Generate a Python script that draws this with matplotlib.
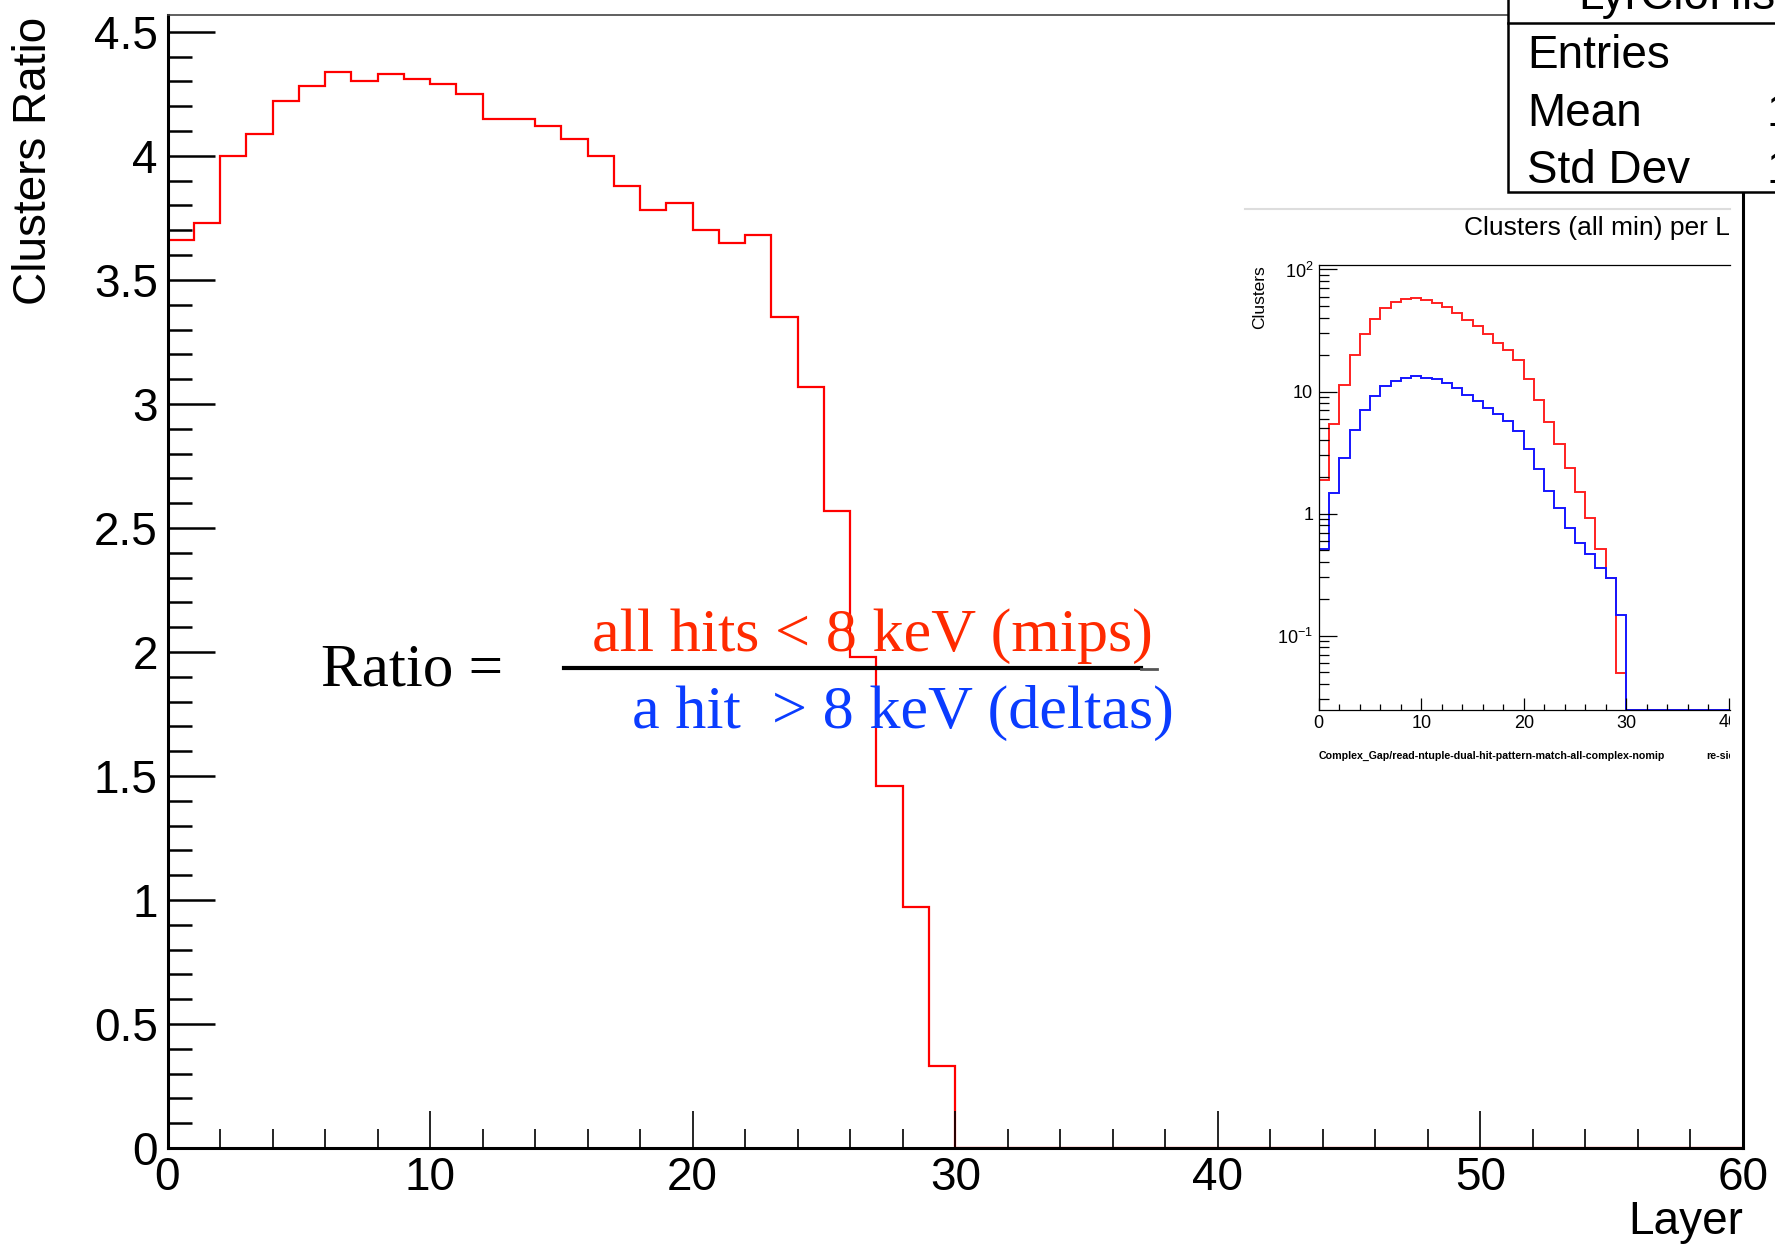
import numpy as np
import matplotlib.pyplot as plt
from matplotlib.patches import Rectangle
from matplotlib.lines import Line2D
from matplotlib.transforms import Bbox, TransformedBbox
from matplotlib.ticker import (MultipleLocator, FixedLocator, FixedFormatter,
                               LogLocator, NullFormatter, FuncFormatter)

plt.rcParams['font.family'] = ['Liberation Sans', 'DejaVu Sans']
plt.rcParams['mathtext.fontset'] = 'custom'
plt.rcParams['mathtext.rm'] = 'Liberation Sans'
plt.rcParams['mathtext.it'] = 'Liberation Sans:italic'

# ---- data ----
layers = np.arange(61)  # bin edges 0..60

# mips / deltas ratio per layer
ratio = [3.66, 3.73, 4.00, 4.09, 4.22, 4.28, 4.34, 4.30, 4.33, 4.31,
         4.29, 4.25, 4.15, 4.15, 4.12, 4.07, 4.00, 3.88, 3.78, 3.81,
         3.70, 3.65, 3.68, 3.35, 3.07, 2.57, 1.98, 1.46, 0.97, 0.33,
         0, 0, 0, 0, 0, 0, 0, 0, 0, 0,
         0, 0, 0, 0, 0, 0, 0, 0, 0, 0,
         0, 0, 0, 0, 0, 0, 0, 0, 0, 0]

# inset: clusters per layer (log scale)
mips = [1.88, 5.47, 11.4, 20.0, 29.6, 39.5, 48.5, 53.8, 56.9, 58.5,
        56.5, 53.5, 49.2, 44.1, 38.9, 34.2, 29.6, 25.2, 21.7, 18.0,
        12.6, 8.57, 5.67, 3.75, 2.35, 1.49, 0.927, 0.516, 0.294, 0.049,
        0, 0, 0, 0, 0, 0, 0, 0, 0, 0,
        0, 0, 0, 0, 0, 0, 0, 0, 0, 0,
        0, 0, 0, 0, 0, 0, 0, 0, 0, 0]
deltas = [0.509, 1.47, 2.88, 4.87, 7.06, 9.18, 11.0, 12.3, 13.0, 13.4,
          13.0, 12.7, 11.8, 10.6, 9.35, 8.39, 7.31, 6.50, 5.70, 4.74,
          3.38, 2.33, 1.53, 1.12, 0.759, 0.576, 0.469, 0.356, 0.294, 0.148,
          0, 0, 0, 0, 0, 0, 0, 0, 0, 0,
          0, 0, 0, 0, 0, 0, 0, 0, 0, 0,
          0, 0, 0, 0, 0, 0, 0, 0, 0, 0]

stat_names = ['Entries', 'Mean', 'Std Dev']

W, H = 1775, 1249


def fx(x):
    return x / W


def fy(y):
    return 1 - y / H


fig = plt.figure(figsize=(W / 100, H / 100), dpi=100)

# ---- main ratio histogram ----
ax = fig.add_axes([fx(167.5), fy(1148), fx(1743) - fx(167.5), fy(15) - fy(1148)])
ax.stairs(ratio, layers, color='red', lw=1.6, baseline=None)
ax.set_xlim(0, 60)
ax.set_ylim(0, 4.568)
ax.xaxis.set_major_locator(MultipleLocator(10))
ax.xaxis.set_minor_locator(MultipleLocator(2))
ax.yaxis.set_major_locator(MultipleLocator(0.5))
ax.yaxis.set_minor_locator(MultipleLocator(0.1))
ax.yaxis.set_major_formatter(FuncFormatter(lambda v, p: '%g' % v))
ax.tick_params(axis='both', which='both', direction='in', top=False, right=False)
ax.tick_params(axis='x', which='major', length=27, width=1.2, labelsize=33, pad=6)
ax.tick_params(axis='x', which='minor', length=14, width=1.2)
ax.tick_params(axis='y', which='major', length=34, width=1.8, labelsize=33, pad=7)
ax.tick_params(axis='y', which='minor', length=17, width=1.8)
for s in ['left', 'bottom', 'right']:
    ax.spines[s].set_linewidth(2.2)
ax.spines['top'].set_linewidth(1.2)
ax.spines['top'].set_color('#444444')

fig.text(fx(34), fy(17), 'Clusters Ratio', rotation=90, ha='center', va='top', fontsize=33)
fig.text(fx(1743), fy(1222), 'Layer', ha='right', va='center', fontsize=33)

# ---- ratio formula ----
fig.text(fx(321), fy(685), 'Ratio =', fontsize=44, family='Liberation Serif', va='baseline')
fig.text(fx(592), fy(651), 'all hits < 8 keV (mips)', fontsize=44.8,
         family='Liberation Serif', color='#ff2a00', va='baseline')
fig.text(fx(632), fy(728), 'a hit  > 8 keV (deltas)', fontsize=44.8,
         family='Liberation Serif', color='#0a3cff', va='baseline')
fig.add_artist(Line2D([fx(564), fx(1141)], [fy(668), fy(668)], color='black', lw=3,
                      transform=fig.transFigure))
fig.add_artist(Line2D([fx(1141), fx(1157)], [fy(669), fy(669)], color='#555555', lw=2,
                      transform=fig.transFigure))

# ---- stats box (cut by the canvas edge) ----
fig.add_artist(Rectangle((fx(1508), fy(192)), 0.2, 0.2, transform=fig.transFigure,
                         facecolor='white', edgecolor='black', lw=1.8))
fig.add_artist(Line2D([fx(1508), 1.0], [fy(23), fy(23)], color='black', lw=1.8,
                      transform=fig.transFigure))
fig.text(fx(1578), fy(9), 'LyrCloHist', fontsize=33, va='baseline')
for i, name in enumerate(stat_names):
    fig.text(fx(1527), fy(68 + 57.5 * i), name, fontsize=33, va='baseline')
fig.text(fx(1767), fy(125.5), '1', fontsize=33, va='baseline')
fig.text(fx(1767), fy(183), '1', fontsize=33, va='baseline')

# ---- inset: clusters per layer ----
clip = TransformedBbox(Bbox([[0, 0], [fx(1730), 1]]), fig.transFigure)
fig.add_artist(Line2D([fx(1245), fx(1730)], [fy(209), fy(209)], color='#dddddd', lw=1.5,
                      transform=fig.transFigure))
fig.text(fx(1730), fy(228), 'Clusters (all min) per L', ha='right', va='center', fontsize=19)

axi = fig.add_axes([fx(1318.8), fy(709.8), fx(1729.7) - fx(1318.8), fy(264.9) - fy(709.8)])
ymin_in = 0.0247
axi.stairs(np.maximum(mips, ymin_in), layers, color='#ff2020', lw=1.4, baseline=None)
axi.stairs(np.maximum(deltas, ymin_in), layers, color='#1515ff', lw=1.4, baseline=None)
axi.set_yscale('log')
axi.set_xlim(0, 40.1)
axi.set_ylim(ymin_in, 109)
axi.xaxis.set_major_locator(FixedLocator([0, 10, 20, 30, 40]))
axi.xaxis.set_major_formatter(FixedFormatter(['0', '10', '20', '30', '']))
axi.xaxis.set_minor_locator(MultipleLocator(2))
axi.yaxis.set_major_locator(FixedLocator([0.1, 1, 10, 100]))
axi.yaxis.set_major_formatter(FixedFormatter(['$10^{-1}$', '1', '10', '$10^{2}$']))
axi.yaxis.set_minor_locator(LogLocator(subs=np.arange(2, 10)))
axi.yaxis.set_minor_formatter(NullFormatter())
axi.tick_params(axis='both', which='both', direction='in', top=False, right=False, width=0.9)
axi.tick_params(axis='x', which='major', length=8.5, labelsize=13, pad=4)
axi.tick_params(axis='x', which='minor', length=4)
axi.tick_params(axis='y', which='major', length=13, labelsize=13, pad=4)
axi.tick_params(axis='y', which='minor', length=7)
axi.spines['right'].set_visible(False)
for s in ['left', 'bottom', 'top']:
    axi.spines[s].set_linewidth(0.9)

t40 = fig.text(fx(1318.8 + 40 * 10.245), fy(722), '40', ha='center', va='center', fontsize=13)
t40.set_clip_on(True)
t40.set_clip_box(clip)
fig.text(fx(1260), fy(265), 'Clusters', rotation=90, ha='center', va='top', fontsize=12.5)
fig.text(fx(1319), fy(756), 'Complex_Gap/read-ntuple-dual-hit-pattern-match-all-complex-nomip',
         fontsize=7.7, fontweight='bold', va='center')
tre = fig.text(fx(1706), fy(756), 're-side', fontsize=7.7, fontweight='bold', va='center')
tre.set_clip_on(True)
tre.set_clip_box(clip)

fig.savefig('out.png', dpi=100, facecolor='white')
